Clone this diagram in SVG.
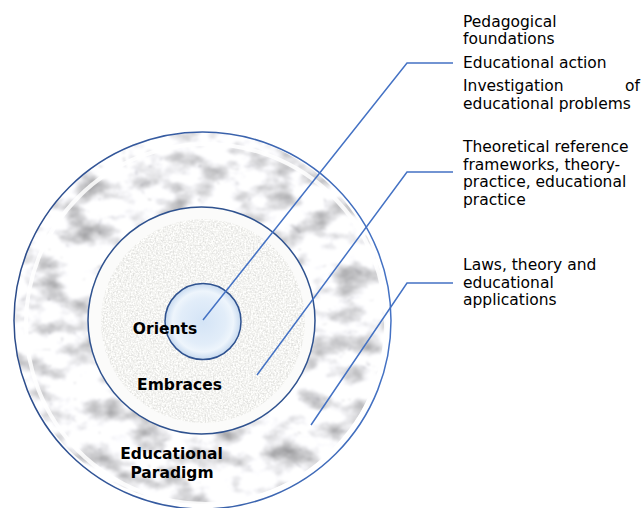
<svg xmlns="http://www.w3.org/2000/svg" width="643" height="508" viewBox="0 0 643 508">
  <defs>
    <style>
      .lbl { font-family: "DejaVu Sans", Verdana, sans-serif; font-size: 15.5px; fill: #000; }
      .bold { font-family: "DejaVu Sans", Verdana, sans-serif; font-size: 15.5px; font-weight: bold; fill: #000; text-anchor: middle; }
      .ring { fill: none; stroke: #2f528f; stroke-width: 1.5; }
      .conn { fill: none; stroke: #4472c4; stroke-width: 1.5; }
    </style>
    <filter id="marble" x="0" y="0" width="1" height="1" color-interpolation-filters="sRGB">
      <feTurbulence type="fractalNoise" baseFrequency="0.03 0.045" numOctaves="5" seed="11" result="f"/>
      <feColorMatrix in="f" type="matrix" values="0.9 0 0 0 0.52  0.9 0 0 0 0.52  0.9 0 0 0 0.53  0 0 0 0 1" result="mf"/>
      <feTurbulence type="turbulence" baseFrequency="0.02 0.03" numOctaves="4" seed="5" result="t"/>
      <feColorMatrix in="t" type="matrix" values="2.5 0 0 0 0.8  2.5 0 0 0 0.8  2.5 0 0 0 0.81  0 0 0 0 1" result="mt"/>
      <feBlend in="mf" in2="mt" mode="multiply" result="b"/>
      <feGaussianBlur in="b" stdDeviation="0.8" result="bb"/>
      <feComposite in="bb" in2="SourceGraphic" operator="in"/>
    </filter>
    <filter id="speckle" x="0" y="0" width="1" height="1" color-interpolation-filters="sRGB">
      <feTurbulence type="fractalNoise" baseFrequency="0.6" numOctaves="2" seed="3" result="t"/>
      <feColorMatrix in="t" type="matrix" values="0.25 0 0 0 0.83  0.25 0 0 0 0.83  0.25 0 0 0 0.82  0 0 0 0 1" result="m"/>
      <feGaussianBlur in="m" stdDeviation="0.4" result="mb"/>
      <feComposite in="mb" in2="SourceGraphic" operator="in"/>
    </filter>
    <linearGradient id="outerStroke" x1="0" y1="0" x2="1" y2="0">
      <stop offset="0" stop-color="#2c4c8a"/>
      <stop offset="1" stop-color="#4472c4"/>
    </linearGradient>
    <radialGradient id="core" cx="0.5" cy="0.5" r="0.5">
      <stop offset="0" stop-color="#d4e4f6"/>
      <stop offset="0.6" stop-color="#e2edf9"/>
      <stop offset="0.8" stop-color="#eef5fc"/>
      <stop offset="1" stop-color="#c6d9ef"/>
    </radialGradient>
  </defs>

  <rect width="643" height="508" fill="#ffffff"/>

  <g id="outer-paradigm">
    <circle cx="200" cy="318" r="186" fill="#ffffff" filter="url(#marble)"/>
    <circle cx="206" cy="324" r="180" fill="none" stroke="#ffffff" stroke-width="4" stroke-opacity="0.85"/>
    <circle cx="202.5" cy="320.5" r="188.5" fill="none" stroke="url(#outerStroke)" stroke-width="1.5"/>
    <text class="bold" x="171.5" y="459">Educational</text>
    <text class="bold" x="172" y="478">Paradigm</text>
  </g>

  <g id="middle-embraces">
    <circle cx="201.5" cy="320.5" r="113.5" fill="#fbfbfa"/>
    <circle cx="203" cy="321" r="102" fill="#ffffff" filter="url(#speckle)"/>
    <circle class="ring" cx="201.5" cy="320.5" r="113.5"/>
    <text class="bold" x="179.5" y="390">Embraces</text>
  </g>

  <g id="inner-orients">
    <circle cx="203" cy="321.5" r="38" fill="url(#core)"/>
    <circle class="ring" cx="203" cy="321.5" r="38"/>
    <text class="bold" x="165" y="334">Orients</text>
  </g>

  <g id="connectors">
    <polyline class="conn" points="203,320 407,63 453,63"/>
    <polyline class="conn" points="257,375 407,172 453,172"/>
    <polyline class="conn" points="311,425 407,283 453,283"/>
  </g>

  <g id="label-orients">
    <text class="lbl" x="463" y="27">Pedagogical</text>
    <text class="lbl" x="463" y="43.5">foundations</text>
    <text class="lbl" x="463" y="68">Educational action</text>
    <text class="lbl" x="463" y="91">Investigation</text>
    <text class="lbl" x="640" y="91" text-anchor="end">of</text>
    <text class="lbl" x="463" y="108.5">educational problems</text>
  </g>

  <g id="label-embraces">
    <text class="lbl" x="463" y="152">Theoretical reference</text>
    <text class="lbl" x="463" y="169.5">frameworks, theory-</text>
    <text class="lbl" x="463" y="187">practice, educational</text>
    <text class="lbl" x="463" y="204.5">practice</text>
  </g>

  <g id="label-paradigm">
    <text class="lbl" x="463" y="270">Laws, theory and</text>
    <text class="lbl" x="463" y="287.5">educational</text>
    <text class="lbl" x="463" y="305">applications</text>
  </g>
</svg>
